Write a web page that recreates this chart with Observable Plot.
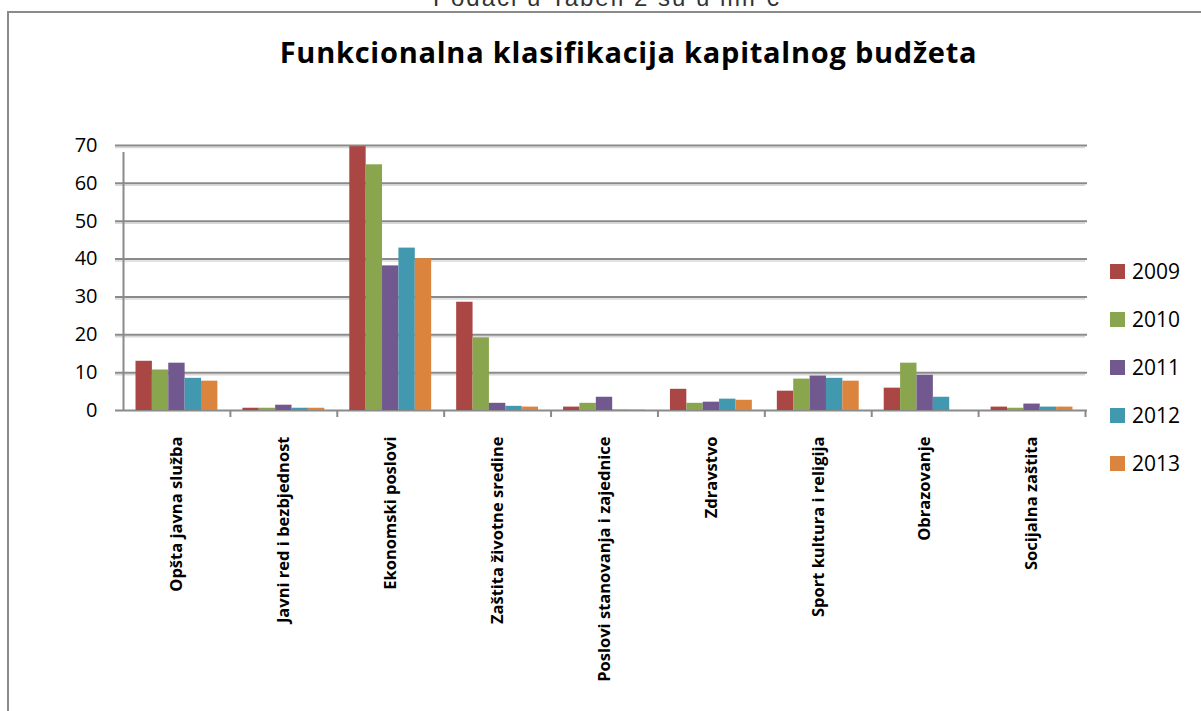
<!DOCTYPE html>
<html>
<head>
<meta charset="utf-8">
<script src="https://cdn.jsdelivr.net/npm/d3@7"></script>
<script src="https://cdn.jsdelivr.net/npm/@observablehq/plot@0.6"></script>
<style>
  html, body { margin: 0; padding: 0; background: #fff; }
  #wrap { position: relative; width: 1201px; height: 711px; overflow: hidden; background: #fff; }
  #border { position: absolute; left: 7px; top: 11px; width: 1300px; height: 800px; border: 2px solid #8a8a8a; box-sizing: border-box; }
  #top { position: absolute; left: 433px; top: -14px; font: 24px "Liberation Sans", sans-serif; line-height: 1; color: #333; letter-spacing: 2px; white-space: nowrap; }
  #title { position: absolute; left: 0; width: 1257px; top: 37px; text-align: center; font: bold 29px "Open Sans", sans-serif; line-height: 1; letter-spacing: 0.75px; color: #000; white-space: nowrap; }
  #chart { position: absolute; left: 0; top: 0; }
  #legend { position: absolute; left: 1110px; top: 247px; font: 21px "Open Sans", sans-serif; color: #000; }
  .item { display: flex; align-items: center; height: 48px; }
  .sw { width: 15px; height: 15px; margin-right: 7px; }
</style>
</head>
<body>
<div id="wrap">
  <div id="border"></div>
  <div id="top">Podaci u Tabeli 2 su u mil €</div>
  <div id="title">Funkcionalna klasifikacija kapitalnog budžeta</div>
  <div id="chart"></div>
  <div id="legend"></div>
</div>
<script>
const categories = [
  "Opšta javna služba",
  "Javni red i bezbjednost",
  "Ekonomski poslovi",
  "Zaštita životne sredine",
  "Poslovi stanovanja i zajednice",
  "Zdravstvo",
  "Sport kultura i religija",
  "Obrazovanje",
  "Socijalna zaštita"
];
const years = ["2009", "2010", "2011", "2012", "2013"];
const v2009 = [13.0, 0.6, 69.7, 28.6, 0.9, 5.6, 5.1, 5.9, 0.9];
const v2010 = [10.7, 0.6, 64.9, 19.2, 1.9, 1.9, 8.3, 12.5, 0.6];
const v2011 = [12.5, 1.4, 38.2, 1.9, 3.5, 2.2, 9.1, 9.3, 1.7];
const v2012 = [8.5, 0.6, 42.9, 1.1, 0.1, 3.0, 8.5, 3.5, 0.9];
const v2013 = [7.75, 0.6, 40.1, 0.9, 0.1, 2.7, 7.75, 0, 0.9];
const yTicks = [0, 10, 20, 30, 40, 50, 60, 70];
const colors = ["#AA4643", "#89A54E", "#71588F", "#4198AF", "#DB843D"];

const series = [v2009, v2010, v2011, v2012, v2013];
const rows = [];
years.forEach((yr, i) => categories.forEach((c, j) => rows.push({category: c, year: yr, value: series[i][j]})));

const W = 1201, H = 711, mL = 123, mR = 116, mT = 145, mB = 301;
const bw = (W - mL - mR) / categories.length;
const pad = bw * 0.117;
const barW = (bw - 2 * pad) / years.length;

const grid = "#8a8a8a";
const marks = [
  Plot.ruleY(yTicks.filter(d => d > 0), {stroke: "#d8d8d8", strokeWidth: 1.5, dy: 2, insetLeft: -8}),
  Plot.ruleY(yTicks, {stroke: grid, strokeWidth: 2, insetLeft: -8, insetRight: -2}),
];
years.forEach((yr, i) => {
  marks.push(Plot.barY(rows.filter(r => r.year === yr), {
    x: "category", y: "value", fill: "year",
    insetLeft: pad + i * barW, insetRight: bw - pad - (i + 1) * barW
  }));
});
marks.push(
  Plot.ruleX([categories[0]], {x: d => d, y1: 0, y2: 70, dx: -bw / 2, stroke: grid, strokeWidth: 2, insetBottom: -7}),
  Plot.ruleX(categories.slice(1), {x: d => d, y1: 0, y2: 0, dx: -bw / 2, stroke: grid, strokeWidth: 2, insetBottom: -7}),
  Plot.ruleX([categories[categories.length - 1]], {x: d => d, y1: 0, y2: 0, dx: bw / 2, stroke: grid, strokeWidth: 2, insetBottom: -7}),
  Plot.axisY({ticks: yTicks, tickSize: 0, tickPadding: 26, fontSize: 20, label: null}),
  Plot.axisX({tickRotate: -90, tickSize: 0, tickPadding: 26, fontSize: 16.5, fontWeight: "bold", letterSpacing: "0.8px", label: null})
);

const chart = Plot.plot({
  width: W, height: H,
  marginLeft: mL, marginRight: mR, marginTop: mT, marginBottom: mB,
  style: {fontFamily: "'Open Sans', sans-serif", color: "#000", background: "transparent", overflow: "visible"},
  x: {domain: categories, padding: 0, round: false, axis: null},
  y: {domain: [0, 70], axis: null},
  color: {domain: years, range: colors},
  marks
});
document.getElementById("chart").appendChild(chart);

const legend = document.getElementById("legend");
years.forEach((yr, i) => {
  const it = document.createElement("div");
  it.className = "item";
  const sw = document.createElement("div");
  sw.className = "sw";
  sw.style.background = colors[i];
  const t = document.createElement("span");
  t.textContent = yr;
  it.appendChild(sw); it.appendChild(t);
  legend.appendChild(it);
});
</script>
</body>
</html>
